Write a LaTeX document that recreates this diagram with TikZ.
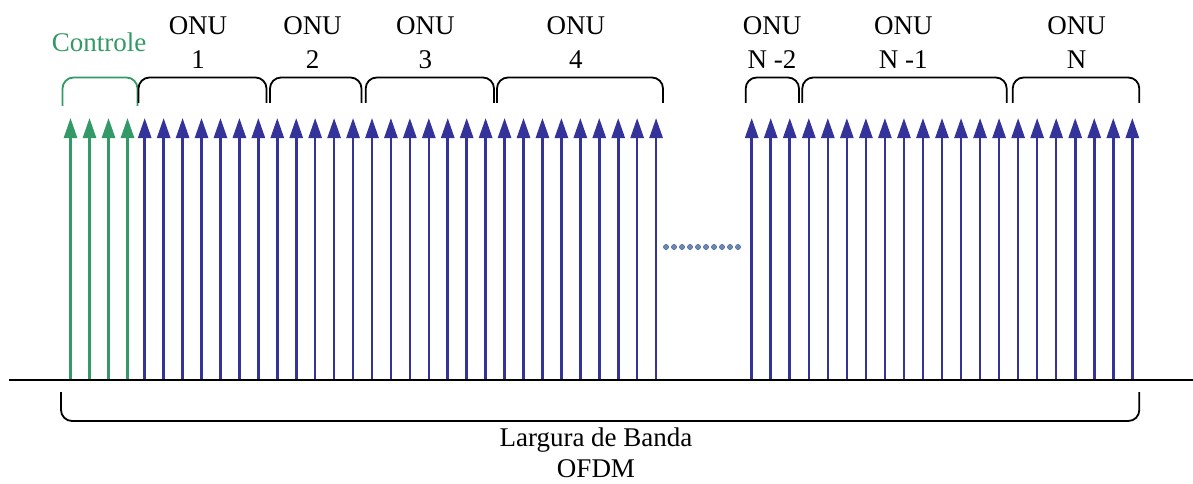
\documentclass[tikz,border=0pt]{standalone}
\usepackage{fontspec}
\setmainfont{Liberation Serif}
\usetikzlibrary{arrows.meta}
\definecolor{carrierblue}{RGB}{51,51,153}
\definecolor{ctrlgreen}{RGB}{51,153,102}
\definecolor{dotblue}{RGB}{105,135,185}
\tikzset{
	carrier/.style={line width=2.6pt,-{Triangle[length=20pt,width=13pt]}},
	bracket/.style={line width=1.8pt,rounded corners=11pt},
	lbl/.style={font=\fontsize{27}{34}\selectfont,align=center,inner sep=0pt,anchor=base},
}

\begin{document}
\begin{tikzpicture}[x=1pt,y=-1pt]
	% canvas, y runs downwards
	\useasboundingbox (0,0) rectangle (1193,484);
	% control sub-carriers
	\foreach \i in {0,...,3}{
		\coordinate (g\i) at ({70.5+19*\i},380);
		\coordinate (gt\i) at ({70.5+19*\i},118);
		\draw[carrier,ctrlgreen] (g\i) -- (gt\i);
	}
	% sub-carriers of ONU 1 to 4
	\foreach \i in {0,...,27}{
		\coordinate (a\i) at ({144.7+18.94*\i},380);
		\coordinate (at\i) at ({144.7+18.94*\i},118);
		\draw[carrier,carrierblue] (a\i) -- (at\i);
	}
	% sub-carriers of ONU N-2 to N
	\foreach \i in {0,...,20}{
		\coordinate (b\i) at ({751.7+19.03*\i},380);
		\coordinate (bt\i) at ({751.7+19.03*\i},118);
		\draw[carrier,carrierblue] (b\i) -- (bt\i);
	}
	% the frequency axis
	\coordinate (f0) at (9,380);
	\coordinate (f1) at (1193,380);
	\draw[line width=2.6pt] (f0) -- (f1);
	% the dots between the groups
	\foreach \i in {0,...,9}
		\filldraw[fill=dotblue,draw=dotblue!80!black,line width=0.5pt] ({666+8*\i},247) circle (2.6);
	% brackets over the groups
	\draw[bracket,ctrlgreen] (62.5,106) -- (62.5,77.5) -- (137.5,77.5) -- (137.5,106);
	\foreach \l/\r in {138.5/266.5,270/361.5,365.7/494,497/663,745.7/799,802.3/1006.7,1012.7/1139.3}
		\draw[bracket] (\l,103) -- (\l,77.5) -- (\r,77.5) -- (\r,103);
	% bracket under the band
	\draw[bracket] (61,392) -- (61,421) -- (1139.3,421) -- (1139.3,392);
	% labels (base = last line)
	\node[lbl,text=ctrlgreen] (ctrl) at (99,51.7) {Controle};
	\node[lbl] (onu1) at (198,68.3) {ONU\\1};
	\node[lbl] (onu2) at (312.5,68.3) {ONU\\2};
	\node[lbl] (onu3) at (425.3,68.3) {ONU\\3};
	\node[lbl] (onu4) at (575.8,68.3) {ONU\\4};
	\node[lbl] (onun2) at (772,68.3) {ONU\\N -2};
	\node[lbl] (onun1) at (903.3,68.3) {ONU\\N -1};
	\node[lbl] (onun) at (1076.7,68.3) {ONU\\N};
	\node[lbl,font=\fontsize{27}{31}\selectfont] (band) at (596,477) {Largura de Banda\\OFDM};
\end{tikzpicture}
\end{document}
